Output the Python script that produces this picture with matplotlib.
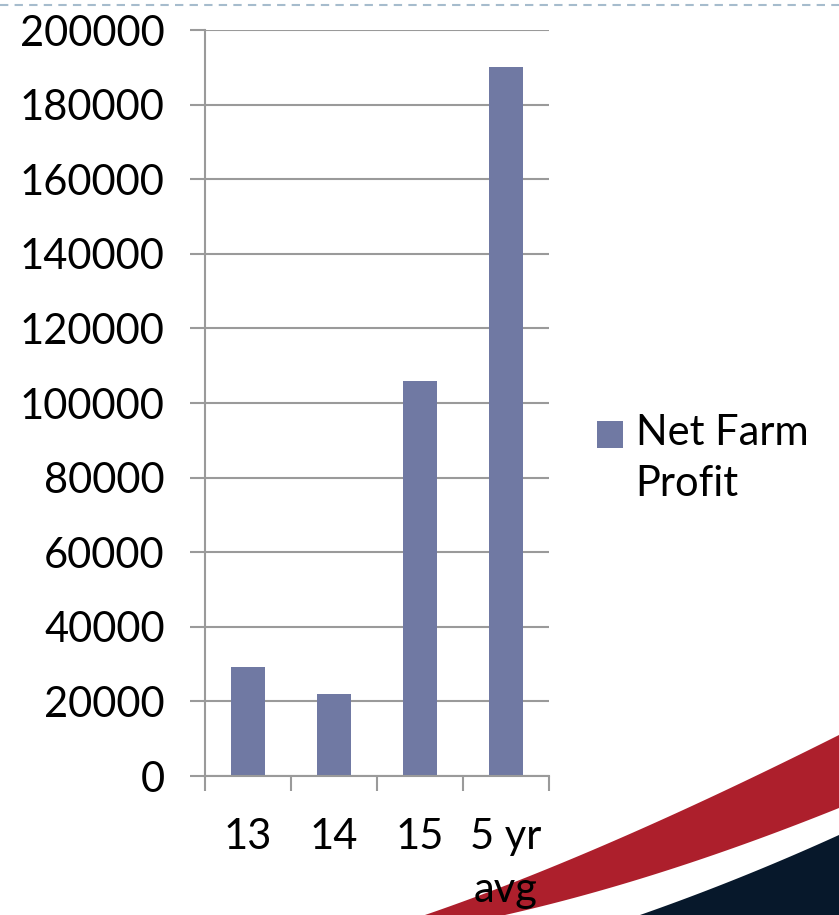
import numpy as np
import matplotlib.pyplot as plt
from matplotlib.patches import Polygon

plt.rcParams['font.family'] = ['Lato', 'DejaVu Sans']

# Data
categories = ['13', '14', '15', '5 yr\navg']
net_farm_profit = [29200, 22000, 106000, 190000]
series_name = 'Net Farm\nProfit'

bar_color = '#7079a3'
grid_color = '#9a9a9a'

fig = plt.figure(figsize=(8.39, 9.15), dpi=100)

# decorative swoosh in the bottom right corner (figure coords)
deco = fig.add_axes([0, 0, 1, 1], zorder=0)
deco.set_xlim(0, 839)
deco.set_ylim(915, 0)
deco.axis('off')

def bezier(p0, p1, p2, n=60):
    t = np.linspace(0, 1, n)[:, None]
    p0, p1, p2 = map(np.array, (p0, p1, p2))
    return (1 - t) ** 2 * p0 + 2 * (1 - t) * t * p1 + t ** 2 * p2

red_top = bezier((425, 915), (600, 855), (839, 735))
red_bot = bezier((505, 915), (660, 880), (839, 808))
navy_top = bezier((640, 915), (740, 880), (839, 835))
deco.add_patch(Polygon(np.vstack([red_top, red_bot[::-1]]), closed=True,
                       color='#ad1f2c', lw=0))
deco.add_patch(Polygon(np.vstack([navy_top, [[839, 915]]]), closed=True,
                       color='#07182b', lw=0))
# dashed line along the top
deco.plot([0, 839], [5, 5], ls=(0, (4, 3)), color='#a6bccd', lw=1.5)

ax = fig.add_axes([0.2443, 0.1519, 0.4100, 0.8153], zorder=1)
ax.patch.set_alpha(0)
x = np.arange(len(categories))
ax.bar(x, net_farm_profit, width=0.4, color=bar_color, zorder=2,
       label=series_name)

ax.set_xlim(-0.5, len(categories) - 0.5)
ax.set_ylim(0, 200000)
ax.set_yticks(np.arange(0, 200001, 20000))
ax.yaxis.grid(True, color=grid_color, lw=1.5)
ax.set_axisbelow(True)

ax.set_xticks(x)
ax.set_xticklabels(categories, fontsize=30, linespacing=1.5, va='top')
ax.set_xticks(np.arange(-0.5, len(categories)), minor=True)
ax.tick_params(axis='x', which='major', length=0, pad=30)
ax.tick_params(axis='x', which='minor', length=11, width=1.5, color=grid_color)
ax.tick_params(axis='y', labelsize=30, length=11, width=1.5,
               color=grid_color, pad=18)

for s in ['top', 'right']:
    ax.spines[s].set_visible(False)
for s in ['left', 'bottom']:
    ax.spines[s].set_color(grid_color)
    ax.spines[s].set_linewidth(1.5)

# legend to the right of the plot
leg = fig.legend(loc='upper left', bbox_to_anchor=(0.712, 0.547), frameon=False,
                 fontsize=30, handlelength=0.62, handleheight=0.62,
                 handletextpad=0.3, borderaxespad=0, borderpad=0)
for t in leg.get_texts():
    t.set_linespacing(1.4)
# put the square next to the first line of the label
h = leg.legend_handles[0]
h.set_y(h.get_y() + 18)

fig.savefig('out.png', dpi=100)
